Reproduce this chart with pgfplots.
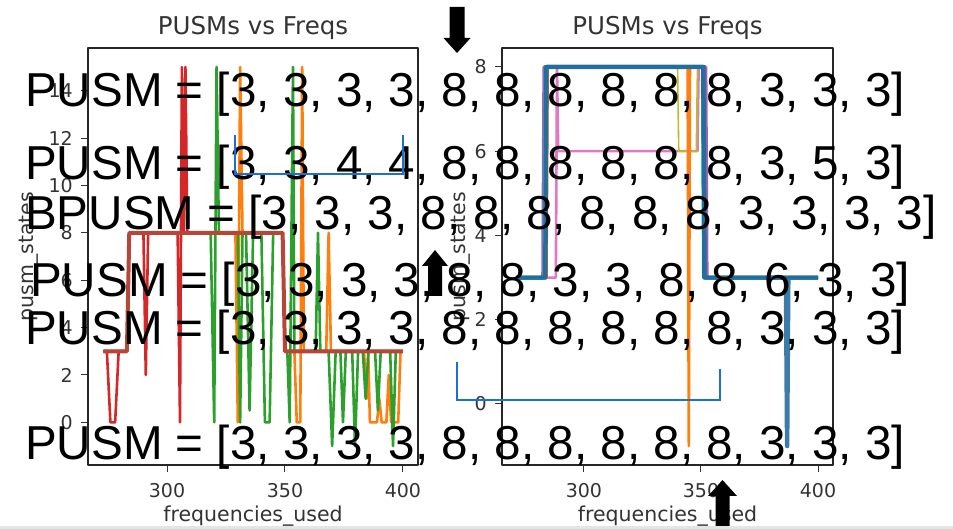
\documentclass[border=0pt]{standalone}
\usepackage{pgfplots}
\pgfplotsset{compat=1.18}
\usepackage{fontspec}
\setmainfont{DejaVu Sans}
\newfontfamily\arialf{Liberation Sans}
\definecolor{mplblue}{HTML}{1F77B4}
\definecolor{mplorange}{HTML}{FF7F0E}
\definecolor{mplgreen}{HTML}{2CA02C}
\definecolor{mplred}{HTML}{D62728}
\definecolor{mplpurple}{HTML}{9467BD}
\definecolor{mplpink}{HTML}{E377C2}
\definecolor{mplolive}{HTML}{BCBD22}
\definecolor{mplcyan}{HTML}{17BECF}
\definecolor{stepbrown}{RGB}{182,70,58}
\definecolor{bracketblue}{RGB}{30,110,215}
\newcommand\bigtxt{\arialf\fontsize{47.6bp}{50bp}\selectfont}
\pgfplotsset{
  every axis title shift=0pt,
  mpl/.style={
    scale only axis, width=330bp, height=417bp, anchor=south west,
    axis line style={line width=1.1bp, black!85},
    tick align=outside, tick pos=left, major tick length=7bp,
    every tick/.style={black!80, line width=1bp},
    ticklabel style={font=\fontsize{19bp}{22bp}\selectfont, text=black!80},
    xticklabel style={anchor=north, inner sep=0pt, yshift=-11bp},
    yticklabel style={anchor=east, inner sep=0pt, xshift=-8bp},
    /pgf/number format/assume math mode=true,
    title style={font=\fontsize{24.5bp}{28bp}\selectfont, text=black!80, at={(axis description cs:0.5,1.0312)}, anchor=base, inner sep=0pt},
    xlabel style={font=\fontsize{20.5bp}{24bp}\selectfont, text=black!80, at={(axis description cs:0.5,-0.1343)}, anchor=base, inner sep=0pt},
    ylabel style={font=\fontsize{20.5bp}{24bp}\selectfont, text=black!80, anchor=south, inner sep=0pt},
    title={PUSMs vs Freqs}, xlabel={frequencies\_used}, ylabel={pusm\_states},
    xtick={300,350,400},
    no markers, line join=round,
    every axis plot/.append style={line width=2.6bp},
  }
}
\begin{document}
\begin{tikzpicture}
\path[use as bounding box] (0,0) rectangle (953bp,529bp);
% left axis
\begin{axis}[mpl, at={(88bp,64bp)}, xmin=266.5, xmax=406.4, ymin=-1.8, ymax=15.8,
  ytick={0,2,...,14}, ylabel style={at={(axis description cs:-0.1485,0.5)}}]
\addplot[mplorange] coordinates {(273,3)(283,3)(284,8)(329,8)(330,0)(331,15)(332,8)(349,8)(350,3)(354,3)(355,0)(356.5,0)(357.3,15)(358,3)(367.5,3)(368.5,8)(369.5,3)(383.5,3)(384.7,1)(385.3,3)(386,0)(389,0)(390,1)(391,0)(393,0)(394,2)(395,0)(398,0)(399,3)(400,3)};
\addplot[mplgreen] coordinates {(273,3)(283,3)(284,8)(318.5,8)(320,0)(321,15)(322,8)(330,8)(331,0)(332,8)(333.5,8)(335,0.5)(336.5,8)(340,8)(341.5,0)(343.5,0)(345,8)(349,8)(350,3)(351,3)(352,0)(353.4,15)(354,3)(363,3)(364,8)(365,3)(368.5,3)(370,-1)(371.5,3)(373.5,3)(374.6,0)(375.8,3)(378.5,3)(379.7,-1)(381,3)(383,3)(384.2,1)(385.4,3)(388.2,3)(389.4,0.5)(390.6,3)(394.6,3)(395.8,-1)(397,3)(400,3)};
\addplot[mplred] coordinates {(273,3)(274.5,3)(276,0)(278,0)(279.5,3)(283,3)(284,8)(290,8)(291,2)(292,8)(304.5,8)(305.5,0)(306.3,15)(307,8)(307.8,15)(308.6,8)(349,8)(350,3)(400,3)};
\addplot[stepbrown, line width=4bp] coordinates {(273,3)(283,3)(284,8)(349,8)(350,3)(400,3)};
\end{axis}
% right axis
\begin{axis}[mpl, at={(502bp,64bp)}, width=331bp, xmin=265, xmax=406.4, ymin=-1.45, ymax=8.45,
  ytick={0,2,4,6,8}, ylabel style={at={(axis description cs:-0.0937,0.5)}}]
\addplot[mplpink] coordinates {(271,3)(288,3)(288.5,8)(289,6)(348.5,6)(349,8)(351,8)(351.5,3)(400,3)};
\addplot[mplpurple, line width=3.5bp] coordinates {(271,3)(282.5,3)(283,8)(352,8)(352.5,3)(400,3)};
\addplot[mplolive, line width=1.6bp] coordinates {(271,3)(284,3)(284.5,8)(340,8)(340.5,6)(348,6)(348.5,8)(351,8)(351.5,3)(400,3)};
\addplot[mplorange] coordinates {(271,3)(284,3)(284.5,8)(344.3,8)(344.8,-1)(345.3,8)(351,8)(351.5,3)(400,3)};
\addplot[mplcyan] coordinates {(271,3)(283,3)(283.5,8)(350.5,8)(351,3)(400,3)};
\addplot[mplblue!85!black, line width=4.5bp, opacity=0.85] coordinates {(271,3)(283.5,3)(284,8)(351,8)(351.5,3)(386.3,3)(386.8,-1)(387.3,3)(400,3)};
\end{axis}
% overlay texts
\node[anchor=base west, inner sep=0pt, font=\bigtxt] at (25bp,422bp) {PUSM = [3, 3, 3, 3, 8, 8, 8, 8, 8, 8, 3, 3, 3]};
\node[anchor=base west, inner sep=0pt, font=\bigtxt] at (25bp,349bp) {PUSM = [3, 3, 4, 4, 8, 8, 8, 8, 8, 8, 3, 5, 3]};
\node[anchor=base west, inner sep=0pt, font=\bigtxt] at (25bp,299bp) {BPUSM = [3, 3, 3, 8, 8, 8, 8, 8, 8, 3, 3, 3, 3]};
\node[anchor=base west, inner sep=0pt, font=\bigtxt] at (30bp,232bp) {PUSM = [3, 3, 3, 3, 8, 8, 3, 3, 8, 8, 6, 3, 3]};
\node[anchor=base west, inner sep=0pt, font=\bigtxt] at (25bp,184bp) {PUSM = [3, 3, 3, 3, 8, 8, 8, 8, 8, 8, 3, 3, 3]};
\node[anchor=base west, inner sep=0pt, font=\bigtxt] at (25bp,69bp) {PUSM = [3, 3, 3, 3, 8, 8, 8, 8, 8, 8, 3, 3, 3]};
% arrows
\fill[black] (449.5bp,522bp) -- (464.5bp,522bp) -- (464.5bp,491bp) -- (470.5bp,491bp) -- (457bp,476bp) -- (443.5bp,491bp) -- (449.5bp,491bp) -- cycle;
\fill[black] (428bp,233bp) -- (442bp,233bp) -- (442bp,263bp) -- (448bp,263bp) -- (435bp,279bp) -- (422bp,263bp) -- (428bp,263bp) -- cycle;
\fill[black] (715.5bp,0bp) -- (729.5bp,0bp) -- (729.5bp,33bp) -- (737bp,33bp) -- (722.5bp,49bp) -- (708bp,33bp) -- (715.5bp,33bp) -- cycle;
% brackets
\draw[bracketblue, line width=1.8bp] (235bp,394bp) -- (235bp,355bp) -- (403bp,355bp) -- (403bp,394bp);
\draw[bracketblue, line width=1.8bp] (457bp,167bp) -- (457bp,129bp) -- (720bp,129bp) -- (720bp,160bp);
% bottom strip
\fill[black!10] (0,0) rectangle (953bp,3bp);
\end{tikzpicture}
\end{document}
